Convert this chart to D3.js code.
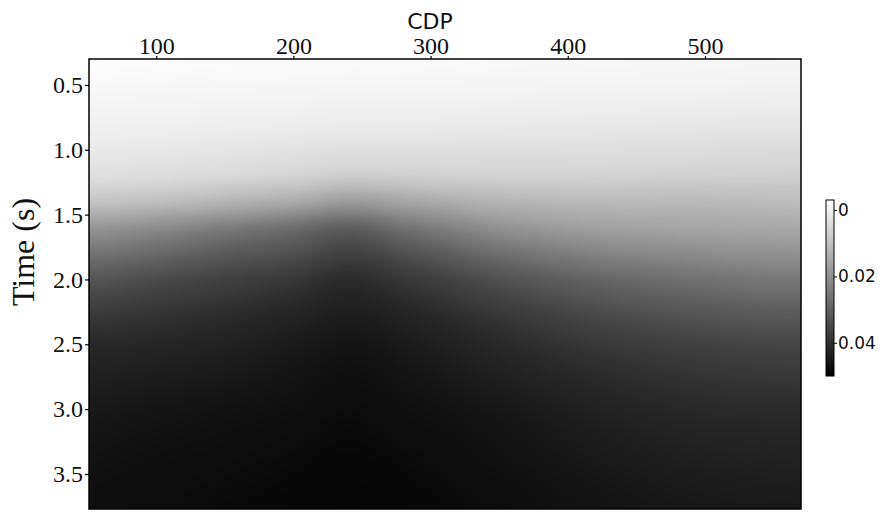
<!DOCTYPE html>
<html>
<head>
<meta charset="utf-8">
<script src="https://cdn.jsdelivr.net/npm/d3@7"></script>
<style>
  body { margin: 0; background: #fff; }
  svg { display: block; }
</style>
</head>
<body>
<svg id="chart" width="885" height="512"></svg>
<script>
// Sampled section: rows follow timeSamples, columns follow cdpSamples.
const cdpSamples  = [51, 100, 150, 200, 240, 280, 350, 420, 500, 570];
const timeSamples = [0.3, 0.6, 0.9, 1.2, 1.4, 1.6, 1.8, 2.0, 2.3, 2.6, 3.0, 3.4, 3.77];
const valueGrid = [
  [-0.0024, -0.0022, -0.0020, -0.0020, -0.0020, -0.0020, -0.0017, -0.0015, -0.0013, -0.0011],
  [-0.0011, -0.0009, -0.0007, -0.0005, -0.0003, -0.0003, -0.0001,  0.0001,  0.0003,  0.0005],
  [ 0.0008,  0.0010,  0.0014,  0.0018,  0.0022,  0.0022,  0.0024,  0.0026,  0.0030,  0.0032],
  [ 0.0039,  0.0043,  0.0051,  0.0062,  0.0074,  0.0070,  0.0064,  0.0064,  0.0068,  0.0070],
  [ 0.0095,  0.0105,  0.0126,  0.0147,  0.0178,  0.0157,  0.0126,  0.0116,  0.0116,  0.0109],
  [ 0.0188,  0.0209,  0.0240,  0.0271,  0.0303,  0.0261,  0.0199,  0.0168,  0.0157,  0.0151],
  [ 0.0261,  0.0282,  0.0313,  0.0334,  0.0365,  0.0334,  0.0271,  0.0230,  0.0209,  0.0199],
  [ 0.0323,  0.0344,  0.0365,  0.0385,  0.0410,  0.0385,  0.0333,  0.0292,  0.0265,  0.0250],
  [ 0.0386,  0.0397,  0.0411,  0.0428,  0.0442,  0.0428,  0.0390,  0.0353,  0.0328,  0.0318],
  [ 0.0424,  0.0431,  0.0439,  0.0452,  0.0462,  0.0452,  0.0424,  0.0397,  0.0377,  0.0368],
  [ 0.0449,  0.0456,  0.0462,  0.0468,  0.0476,  0.0468,  0.0452,  0.0431,  0.0414,  0.0410],
  [ 0.0463,  0.0469,  0.0473,  0.0480,  0.0486,  0.0480,  0.0465,  0.0449,  0.0436,  0.0432],
  [ 0.0470,  0.0475,  0.0481,  0.0487,  0.0491,  0.0487,  0.0475,  0.0460,  0.0450,  0.0446]
];

const cdpTicks   = [100, 200, 300, 400, 500];
const timeTicks  = [0.5, 1.0, 1.5, 2.0, 2.5, 3.0, 3.5];
const colorTicks = [0, 0.02, 0.04];
const cdpExtent   = [51, 570];
const timeExtent  = [0.3, 3.77];
const colorExtent = [-0.003, 0.050];

const svg = d3.select("#chart");
const plot = { left: 89, top: 59, right: 801, bottom: 509 };
const bar  = { left: 826, width: 8, top: 200, bottom: 376 };

const x = d3.scaleLinear().domain(cdpExtent).range([plot.left, plot.right]);
const y = d3.scaleLinear().domain(timeExtent).range([plot.top, plot.bottom]);
const grey = d3.scaleLinear().domain(colorExtent).range(["#ffffff", "#000000"]).clamp(true);

// Smooth (Catmull-Rom) lookup into the sampled grid, used only to shade the raster.
function locate(samples, v) {
  const i = Math.max(0, Math.min(samples.length - 2, d3.bisectRight(samples, v) - 1));
  const f = Math.max(0, Math.min(1, (v - samples[i]) / (samples[i + 1] - samples[i])));
  return [i, f];
}
function cr(p0, p1, p2, p3, f) {
  const f2 = f * f, f3 = f2 * f;
  return 0.5 * ((2 * p1) + (-p0 + p2) * f + (2 * p0 - 5 * p1 + 4 * p2 - p3) * f2 + (-p0 + 3 * p1 - 3 * p2 + p3) * f3);
}
const nc = cdpSamples.length, nt = timeSamples.length;
const at = (ti, ci) => valueGrid[Math.max(0, Math.min(nt - 1, ti))][Math.max(0, Math.min(nc - 1, ci))];
function lookup(cLoc, tLoc) {
  const [ci, fx] = cLoc, [ti, fy] = tLoc;
  const rows = [];
  for (let k = -1; k <= 2; k++) {
    rows.push(cr(at(ti + k, ci - 1), at(ti + k, ci), at(ti + k, ci + 1), at(ti + k, ci + 2), fx));
  }
  return cr(rows[0], rows[1], rows[2], rows[3], fy);
}

// Raster of the section
const w = Math.round(plot.right - plot.left), h = Math.round(plot.bottom - plot.top);
const canvas = document.createElement("canvas");
canvas.width = w; canvas.height = h;
const ctx = canvas.getContext("2d");
const img = ctx.createImageData(w, h);
const colLocs = d3.range(w).map(px => locate(cdpSamples, x.invert(plot.left + px + 0.5)));
for (let py = 0; py < h; py++) {
  const tLoc = locate(timeSamples, y.invert(plot.top + py + 0.5));
  for (let px = 0; px < w; px++) {
    const col = d3.rgb(grey(lookup(colLocs[px], tLoc)));
    const k = (py * w + px) * 4;
    img.data[k] = col.r; img.data[k + 1] = col.g; img.data[k + 2] = col.b; img.data[k + 3] = 255;
  }
}
ctx.putImageData(img, 0, 0);

svg.append("image")
  .attr("x", plot.left).attr("y", plot.top)
  .attr("width", w).attr("height", h)
  .attr("preserveAspectRatio", "none")
  .attr("href", canvas.toDataURL());

svg.append("rect")
  .attr("x", plot.left).attr("y", plot.top)
  .attr("width", w).attr("height", h)
  .attr("fill", "none").attr("stroke", "#000").attr("stroke-width", 1.5);

// Axes
const serif = "'Liberation Serif', 'Times New Roman', serif";
const sans = "'DejaVu Sans', sans-serif";
const topAxis = svg.append("g")
  .attr("transform", `translate(0,${plot.top})`)
  .call(d3.axisTop(x).tickValues(cdpTicks).tickSize(3).tickPadding(2).tickFormat(d3.format("d")));
const leftAxis = svg.append("g")
  .attr("transform", `translate(${plot.left},0)`)
  .call(d3.axisLeft(y).tickValues(timeTicks).tickSize(4).tickPadding(2).tickFormat(d3.format(".1f")));

[topAxis, leftAxis].forEach(g => {
  g.select(".domain").remove();
  g.selectAll(".tick line").attr("stroke", "#000").attr("stroke-width", 1.2);
  g.selectAll(".tick text").attr("fill", "#111").style("font-family", serif).style("font-size", "24px");
});

svg.append("text")
  .attr("x", 430).attr("y", 29)
  .attr("text-anchor", "middle")
  .style("font-family", sans).style("font-size", "22px").attr("fill", "#111")
  .text("CDP");

svg.append("text")
  .attr("transform", `translate(34,252) rotate(-90)`)
  .attr("text-anchor", "middle")
  .style("font-family", serif).style("font-size", "32px").attr("fill", "#111")
  .text("Time (s)");

// Colour bar
const cScale = d3.scaleLinear().domain(colorExtent).range([bar.top, bar.bottom]);
const grad = svg.append("defs").append("linearGradient")
  .attr("id", "cbar").attr("x1", 0).attr("y1", 0).attr("x2", 0).attr("y2", 1);
grad.append("stop").attr("offset", "0%").attr("stop-color", grey(colorExtent[0]));
grad.append("stop").attr("offset", "100%").attr("stop-color", grey(colorExtent[1]));

svg.append("rect")
  .attr("x", bar.left).attr("y", bar.top)
  .attr("width", bar.width).attr("height", bar.bottom - bar.top)
  .attr("fill", "url(#cbar)").attr("stroke", "#000").attr("stroke-width", 1);

const cAxis = svg.append("g")
  .attr("transform", `translate(${bar.left + bar.width},0)`)
  .call(d3.axisRight(cScale).tickValues(colorTicks).tickSize(3).tickPadding(1)
    .tickFormat(d => d === 0 ? "0" : d3.format(".2f")(d)));
cAxis.select(".domain").remove();
cAxis.selectAll(".tick line").attr("stroke", "#000");
cAxis.selectAll(".tick text").attr("fill", "#111")
  .style("font-family", sans).style("font-size", "17px");
</script>
</body>
</html>
